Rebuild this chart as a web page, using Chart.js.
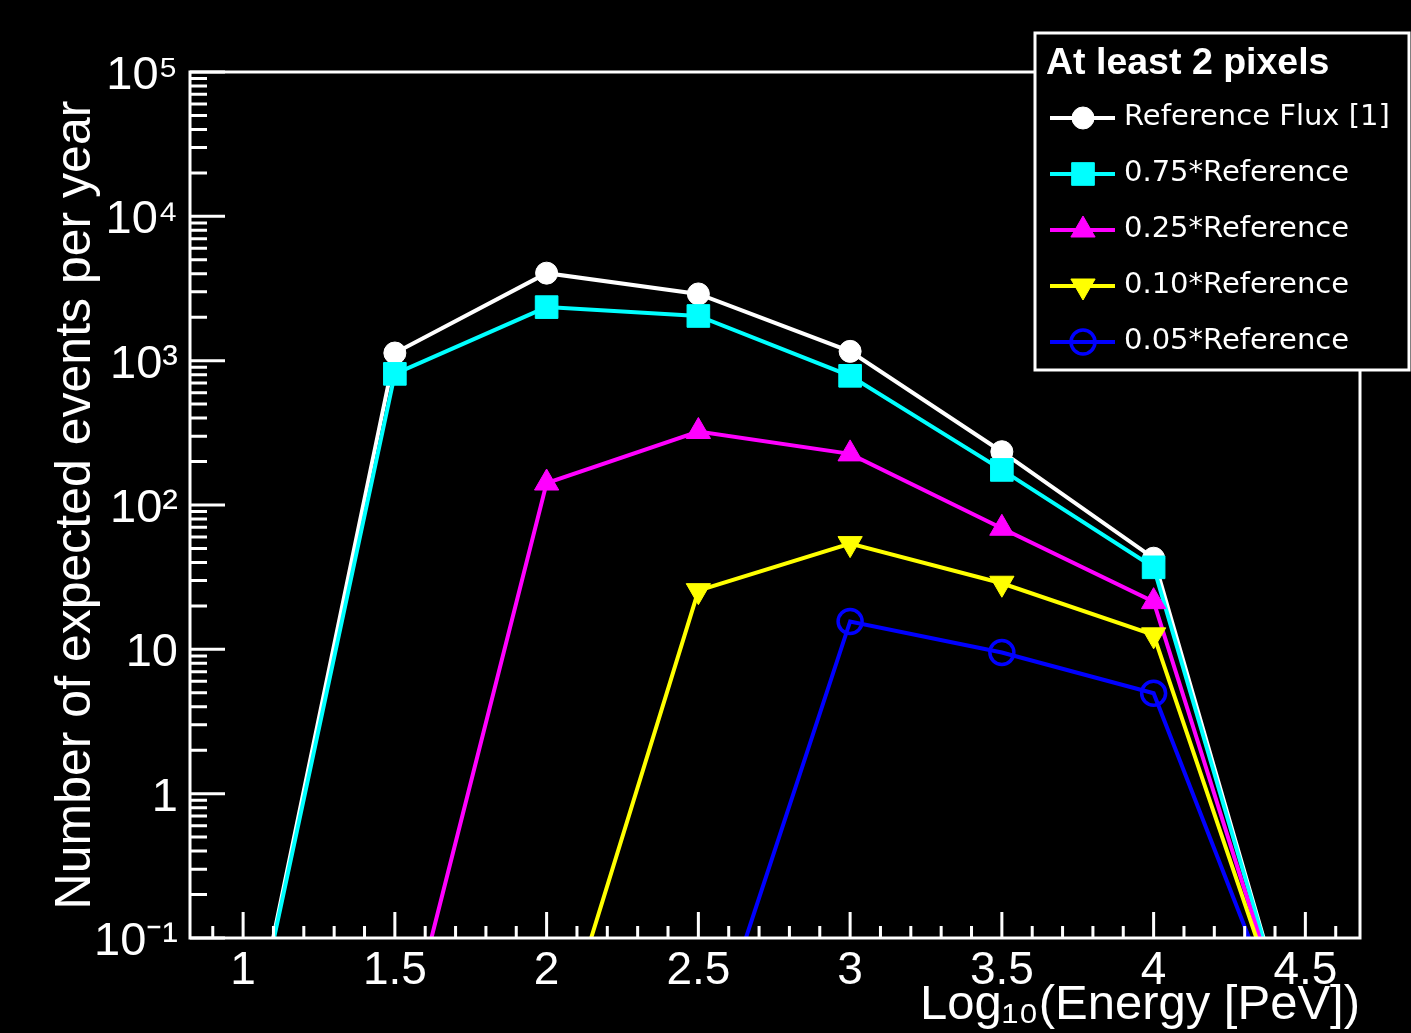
<!DOCTYPE html>
<html>
<head>
<meta charset="utf-8">
<script src="https://cdn.jsdelivr.net/npm/chart.js@4.4.1/dist/chart.umd.min.js"></script>
<style>
  html, body { margin: 0; padding: 0; background: #000; overflow: hidden; }
  #wrap { width: 1411px; height: 1033px; }
</style>
</head>
<body>
<div id="wrap"><canvas id="chart"></canvas></div>
<script>
// Log10(Energy [PeV]) bins
const energyBins = [1, 1.5, 2, 2.5, 3, 3.5, 4, 4.5];

// expected events per year, 0.01 = empty bin (falls below the plot floor)
const refFlux = [0.01, 1130, 4040, 2900, 1160, 234, 42.8, 0.01];
const ref075 = [0.01, 810, 2350, 2040, 785, 175, 37, 0.01];
const ref025 = [0.01, 0.01, 142, 323, 226, 69, 21.4, 0.01];
const ref010 = [0.01, 0.01, 0.01, 25.5, 54, 28.7, 12.6, 0.01];
const ref005 = [0.01, 0.01, 0.01, 0.01, 15.6, 9.5, 4.96, 0.01];

const seriesNames = ['Reference Flux [1]', '0.75*Reference', '0.25*Reference', '0.10*Reference', '0.05*Reference'];
const legendTitle = 'At least 2 pixels';

const xTicks = [1, 1.5, 2, 2.5, 3, 3.5, 4, 4.5];
const xTickLabels = ['1', '1.5', '2', '2.5', '3', '3.5', '4', '4.5'];
const yTicks = [0.1, 1, 10, 100, 1000, 10000, 100000];
const yTickLabels = ['10⁻¹', '1', '10', '10²', '10³', '10⁴', '10⁵'];

const Y_MIN = 0.1;
const Y_MAX = 100000;

Chart.defaults.font.family = '"Liberation Sans", Arial, sans-serif';
Chart.defaults.color = '#fff';

// build one graph, hide markers of bins that sit below the floor
const makeSet = (label, values, color, style, radius, extra) => Object.assign({
    label: label,
    data: energyBins.map((x, i) => ({ x: x, y: values[i] })),
    borderColor: color,
    backgroundColor: color,
    borderWidth: 4,
    pointStyle: style,
    pointRadius: values.map(v => v >= Y_MIN ? radius : 0),
    legendRadius: radius,
    pointBorderWidth: 1,
    pointHoverRadius: 0,
    tension: 0,
}, extra || {});

// ROOT style frame with ticks drawn inside
const frameAndTicks = {
    id: 'frameAndTicks',
    afterDatasetsDraw(chart) {
        const { ctx, chartArea: a, scales: { x, y } } = chart;
        ctx.save();
        ctx.strokeStyle = '#fff';
        ctx.lineWidth = 3;
        ctx.beginPath();
        for (let d = -1; d <= 5; d++) {
            for (let k = 1; k <= 9; k++) {
                const v = k * Math.pow(10, d);
                if (v < y.min || v > y.max * 1.0001) continue;
                const py = y.getPixelForValue(v);
                ctx.moveTo(a.left, py);
                ctx.lineTo(a.left + (k === 1 ? 35 : 17), py);
            }
        }
        for (let i = Math.ceil(x.min * 10); i <= Math.floor(x.max * 10); i++) {
            const px = x.getPixelForValue(i / 10);
            ctx.moveTo(px, a.bottom);
            ctx.lineTo(px, a.bottom - (i % 5 === 0 ? 26 : 12));
        }
        ctx.stroke();
        ctx.strokeRect(a.left, a.top, a.right - a.left, a.bottom - a.top);
        ctx.restore();
    }
};

// boxed legend in the top right corner
const boxLegend = {
    id: 'boxLegend',
    afterDraw(chart) {
        const ctx = chart.ctx;
        ctx.save();
        ctx.fillStyle = '#000';
        ctx.strokeStyle = '#fff';
        ctx.lineWidth = 3;
        ctx.fillRect(1035, 33, 374, 337);
        ctx.strokeRect(1035, 33, 374, 337);

        ctx.fillStyle = '#fff';
        ctx.textBaseline = 'alphabetic';
        ctx.font = 'bold 37.5px "Liberation Sans"';
        ctx.fillText(legendTitle, 1046, 74);

        ctx.font = '29px "DejaVu Sans"';
        chart.data.datasets.forEach((ds, i) => {
            const rowY = 118 + i * 56;
            ctx.strokeStyle = ds.borderColor;
            ctx.lineWidth = ds.borderWidth;
            ctx.beginPath();
            ctx.moveTo(1050, rowY);
            ctx.lineTo(1115, rowY);
            ctx.stroke();

            ctx.fillStyle = ds.backgroundColor;
            ctx.lineWidth = ds.pointBorderWidth;
            Chart.helpers.drawPoint(ctx, {
                pointStyle: ds.pointStyle,
                rotation: ds.pointRotation || 0,
                radius: ds.legendRadius,
                borderWidth: ds.pointBorderWidth
            }, 1083, rowY);

            ctx.fillStyle = '#fff';
            ctx.fillText(ds.label, 1124, rowY + 7);
        });
        ctx.restore();
    }
};

const ctx = document.getElementById('chart').getContext('2d');
new Chart(ctx, {
    type: 'line',
    data: {
        datasets: [
            makeSet(seriesNames[0], refFlux, '#ffffff', 'circle', 11, { order: 5 }),
            makeSet(seriesNames[1], ref075, '#00ffff', 'rect', 16, { order: 4 }),
            makeSet(seriesNames[2], ref025, '#ff00ff', 'triangle', 14, { order: 3 }),
            makeSet(seriesNames[3], ref010, '#ffff00', 'triangle', 14, { order: 2, pointRotation: 180 }),
            makeSet(seriesNames[4], ref005, '#0000ff', 'circle', 12, {
                order: 1, backgroundColor: 'rgba(0,0,0,0)', pointBorderWidth: 3.5
            }),
        ],
    },
    options: {
        responsive: true,
        maintainAspectRatio: false,
        animation: false,
        devicePixelRatio: 1,
        layout: { padding: { left: 0, top: 72, right: 51, bottom: 0 } },
        plugins: {
            legend: { display: false },
            tooltip: { enabled: false },
        },
        scales: {
            x: {
                type: 'linear',
                min: 0.825,
                max: 4.68,
                grid: { display: false, drawTicks: false },
                border: { display: false },
                afterBuildTicks: (scale) => { scale.ticks = xTicks.map(v => ({ value: v })); },
                afterFit: (scale) => { scale.height = 95; },
                ticks: {
                    autoSkip: false,
                    maxRotation: 0,
                    padding: 6,
                    color: '#fff',
                    font: { size: 46 },
                    callback: (value, index) => xTickLabels[index],
                },
                title: {
                    display: true,
                    text: 'Log₁₀(Energy [PeV])',
                    align: 'end',
                    color: '#fff',
                    font: { size: 49 },
                    padding: { top: 0, bottom: -2 },
                },
            },
            y: {
                type: 'logarithmic',
                min: Y_MIN,
                max: Y_MAX,
                grid: { display: false, drawTicks: false },
                border: { display: false },
                afterBuildTicks: (scale) => { scale.ticks = yTicks.map(v => ({ value: v })); },
                afterFit: (scale) => { scale.width = 190; },
                ticks: {
                    autoSkip: false,
                    padding: 12,
                    labelOffset: 4,
                    color: '#fff',
                    font: { size: 47 },
                    callback: (value, index) => yTickLabels[index],
                },
                title: {
                    display: true,
                    text: 'Number of expected events per year',
                    color: '#fff',
                    font: { size: 50 },
                    padding: { top: 46, bottom: 0 },
                },
            },
        },
    },
    plugins: [frameAndTicks, boxLegend],
});
</script>
</body>
</html>
